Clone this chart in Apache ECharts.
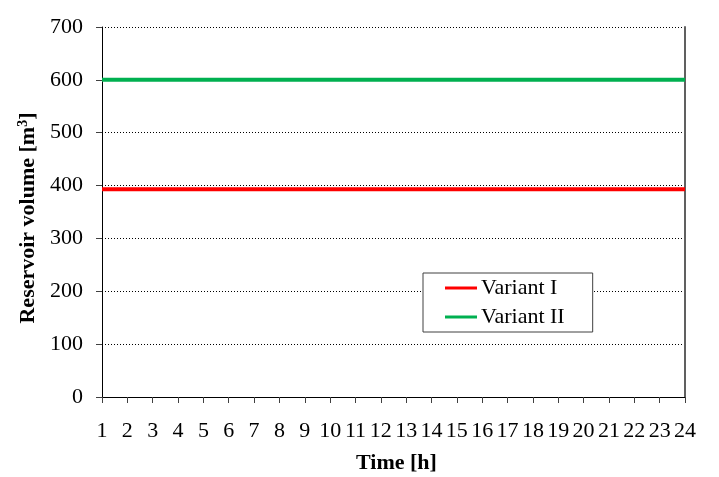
<!DOCTYPE html>
<html>
<head>
<meta charset="utf-8">
<script src="https://cdn.jsdelivr.net/npm/echarts@6/dist/echarts.min.js"></script>
<style>
  html, body { margin: 0; padding: 0; background: #fff; }
  #chart { width: 719px; height: 477px; }
</style>
</head>
<body>
<div id="chart"></div>
<script>
// hours 1..24
const hours = ['1', '2', '3', '4', '5', '6', '7', '8', '9', '10', '11', '12',
  '13', '14', '15', '16', '17', '18', '19', '20', '21', '22', '23', '24']
const variant1 = [393, 393, 393, 393, 393, 393, 393, 393, 393, 393, 393, 393,
  393, 393, 393, 393, 393, 393, 393, 393, 393, 393, 393, 393]
const variant2 = [600, 600, 600, 600, 600, 600, 600, 600, 600, 600, 600, 600,
  600, 600, 600, 600, 600, 600, 600, 600, 600, 600, 600, 600]

const font = '"Liberation Serif", "Times New Roman", serif'

const chart = echarts.init(document.getElementById('chart'))

const option = {
  animation: false,
  textStyle: { fontFamily: font, color: '#000' },
  grid: {
    left: 102,
    right: 34,
    top: 27,
    bottom: 80,
    outerBoundsMode: 'none'
  },
  legend: {
    orient: 'vertical',
    left: 423,
    top: 273,
    padding: [4, 28, 4, 22],
    itemGap: 7,
    itemWidth: 32,
    itemHeight: 3,
    icon: 'rect',
    borderColor: '#404040',
    borderWidth: 1,
    borderRadius: 0,
    backgroundColor: '#fff',
    textStyle: { fontFamily: font, fontSize: 22, color: '#000', padding: [0, 0, 0, -1] },
    data: ['Variant I', 'Variant II']
  },
  xAxis: {
    type: 'category',
    data: hours,
    boundaryGap: false,
    name: 'Time [h]',
    nameLocation: 'middle',
    nameGap: 55,
    nameTextStyle: { fontFamily: font, fontSize: 22, fontWeight: 'bold', color: '#000', padding: [0, 0, 0, 6] },
    axisLine: { lineStyle: { color: '#000', width: 1 } },
    axisTick: { show: true, length: 6, alignWithLabel: true, lineStyle: { color: '#404040' } },
    axisLabel: { fontFamily: font, fontSize: 22, color: '#000', margin: 23, interval: 0 },
    splitLine: { show: false }
  },
  yAxis: [
    {
      type: 'value',
      min: 0,
      max: 700,
      interval: 100,
      name: 'Reservoir volume [m{sup|3}]',
      nameLocation: 'middle',
      nameRotate: 90,
      nameGap: 60,
      nameTextStyle: {
        fontFamily: font, fontSize: 22, fontWeight: 'bold', color: '#000',
        padding: [0, 12, 0, 0],
        rich: {
          sup: { fontFamily: font, fontSize: 14, fontWeight: 'bold', verticalAlign: 'top', padding: [0, 0, 10, 0] }
        }
      },
      axisLine: { show: true, lineStyle: { color: '#000', width: 1 } },
      axisTick: { show: true, length: 6, lineStyle: { color: '#404040' } },
      axisLabel: { fontFamily: font, fontSize: 22, color: '#000', margin: 19 },
      splitLine: { show: true, lineStyle: { color: '#000', type: [1, 2], width: 1 } }
    },
    {
      type: 'value',
      min: 0,
      max: 700,
      interval: 100,
      position: 'right',
      axisLine: { show: true, lineStyle: { color: '#606060', width: 2 } },
      axisTick: { show: false },
      axisLabel: { show: false },
      splitLine: { show: false }
    }
  ],
  series: [
    {
      name: 'Variant I',
      type: 'line',
      data: variant1,
      showSymbol: false,
      color: '#ff0000',
      lineStyle: { width: 4, color: '#ff0000' }
    },
    {
      name: 'Variant II',
      type: 'line',
      data: variant2,
      showSymbol: false,
      color: '#00b050',
      lineStyle: { width: 4, color: '#00b050' }
    }
  ]
}

chart.setOption(option)
</script>
</body>
</html>
